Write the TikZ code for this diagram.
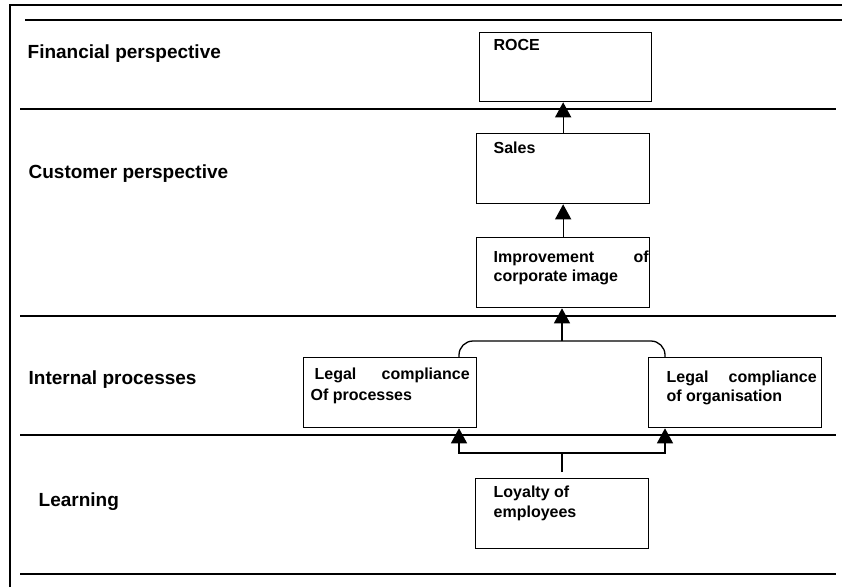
\documentclass[tikz,border=0pt]{standalone}
\usepackage{fontspec}
\setmainfont{Liberation Sans}
\usetikzlibrary{arrows.meta,calc}

\begin{document}
\begin{tikzpicture}[x=1pt,y=-1pt,line width=1.3pt,
  box/.style={draw,rectangle,inner sep=0pt,anchor=north west},
  lbl/.style={anchor=base west,inner sep=0pt,font=\fontsize{19}{23}\selectfont\bfseries},
  txt/.style={anchor=base west,inner sep=0pt,font=\fontsize{16}{20}\selectfont\bfseries},
  up/.style={-{Triangle[length=15pt,width=16pt]}},
  rule/.style={line width=1.4pt}]

\useasboundingbox (0,0) rectangle (842,587);

% outer frame (left and top sides)
\draw[line width=1.5pt] (10,587) -- (10,5) -- (842,5);

% rules separating the perspectives
\draw[rule] (25,20) -- (842,20);
\draw[rule] (20,109) -- (836,109);
\draw[rule] (20,316) -- (836,316);
\draw[rule] (20,435) -- (836,435);
\draw[rule] (20,574) -- (836,574);

% perspective labels
\node[lbl] (fin) at (27,58) {Financial perspective};
\node[lbl] (cus) at (28,178) {Customer perspective};
\node[lbl] (int) at (28,384) {Internal processes};
\node[lbl] (lrn) at (38,506) {Learning};

% boxes
\node[box,minimum width=172pt,minimum height=69pt] (roce) at (479,32) {};
\node[box,minimum width=173pt,minimum height=70pt] (sales) at (476,133) {};
\node[box,minimum width=173pt,minimum height=70pt] (improv) at (476,237) {};
\node[box,minimum width=173pt,minimum height=70pt] (legp) at (303,357) {};
\node[box,minimum width=173pt,minimum height=70pt] (lego) at (648,357) {};
\node[box,minimum width=173pt,minimum height=70pt] (loyal) at (475,478) {};

% box texts
\node[txt] (troce) at (493,50) {ROCE};
\node[txt] (tsales) at (493,153) {Sales};
\node[txt] (timp1) at (493,262) {\hbox to 155pt{Improvement\hfill of}};
\node[txt] (timp2) at (493,281) {corporate image};
\node[txt] (tlp1) at (314,379) {\hbox to 155pt{Legal\hfill compliance}};
\node[txt] (tlp2) at (310,400) {Of processes};
\node[txt] (tlo1) at (666,382) {\hbox to 150pt{Legal\hfill compliance}};
\node[txt] (tlo2) at (666,401) {of organisation};
\node[txt] (tly1) at (493,497) {Loyalty of};
\node[txt] (tly2) at (493,517) {employees};

% connector end points
\coordinate (lpt) at ([xshift=156pt]legp.north west);
\coordinate (lpb) at ([xshift=156pt]legp.south west);
\coordinate (lot) at ([xshift=17pt]lego.north west);
\coordinate (lob) at ([xshift=17pt]lego.south west);
\coordinate (join) at (562,341);
\coordinate (fork) at (562,453);
\coordinate (stem) at (562,472);

% connectors
\draw[up] (sales.north) -- (sales.north |- roce.south);
\draw[up] (improv.north) -- (sales.south);
\draw[rounded corners=14pt] (lpt) |- (join) -| (lot);
\draw[up] (join) -- (join |- improv.south);
\draw (stem) -- (fork);
\draw[up] (fork) -| (lpb);
\draw[up] (fork) -| (lob);
\end{tikzpicture}
\end{document}
